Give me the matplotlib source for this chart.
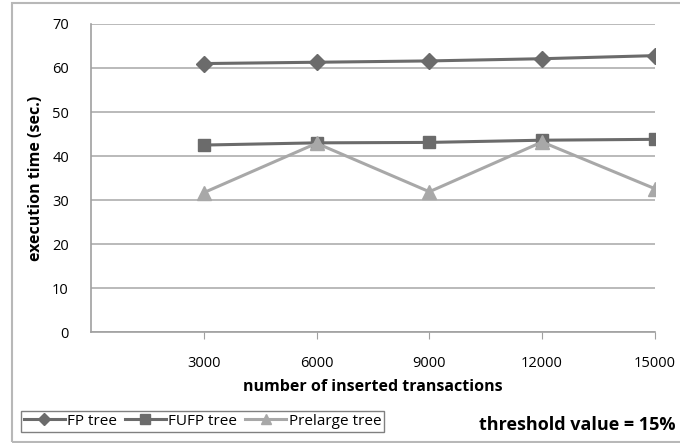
import matplotlib.pyplot as plt
from matplotlib.patches import Rectangle

plt.rcParams['font.family'] = ['Open Sans', 'DejaVu Sans']

transactions = [3000, 6000, 9000, 12000, 15000]
fp_tree = [61.0, 61.3, 61.6, 62.1, 62.8]
fufp_tree = [42.5, 43.0, 43.1, 43.6, 43.8]
prelarge_tree = [31.7, 42.9, 31.9, 43.2, 32.6]

fig = plt.figure(figsize=(6.8, 4.43), dpi=100)
ax = fig.add_axes([0.134, 0.25, 0.829, 0.696])

ax.plot(transactions, fp_tree, color="#6b6b6b", lw=2.2, marker="D", ms=8,
        label="FP tree", zorder=3)
ax.plot(transactions, fufp_tree, color="#6b6b6b", lw=2.2, marker="s", ms=9,
        label="FUFP tree", zorder=3)
ax.plot(transactions, prelarge_tree, color="#a8a8a8", lw=2.2, marker="^", ms=10,
        label="Prelarge tree", zorder=4)

ax.set_xlim(0, 15000)
ax.set_ylim(0, 70)
ax.set_xticks(transactions)
ax.set_yticks(range(0, 71, 10))
ax.yaxis.grid(True, color="#b4b4b4", lw=1.3)
ax.set_axisbelow(True)
for s in ["top", "right"]:
    ax.spines[s].set_visible(False)
for s in ["left", "bottom"]:
    ax.spines[s].set_color("#a0a0a0")
    ax.spines[s].set_linewidth(1.2)
ax.tick_params(axis="x", length=5, color="#a0a0a0", pad=12, labelsize=10.5)
ax.tick_params(axis="y", length=0, pad=16, labelsize=10.5)

ax.set_xlabel("number of inserted transactions", fontsize=11.5, fontweight="bold",
              labelpad=6)
ax.set_ylabel("execution time (sec.)", fontsize=11.5, fontweight="bold", labelpad=6)

fig.legend(loc="lower left", bbox_to_anchor=(0.019, 0.008), ncol=3, fontsize=11,
           handlelength=2.7, handletextpad=0.15, columnspacing=0.5,
           borderpad=0.2, fancybox=False, edgecolor="#808080",
           framealpha=1, markerscale=0.75)

fig.text(0.705, 0.03, "threshold value = 15%", fontsize=13, fontweight="bold")

fig.patches.append(Rectangle((0.017, 0.003), 1.2, 0.99, transform=fig.transFigure,
                             fill=False, edgecolor="#b8b8b8", lw=1.5))

fig.savefig("out.png", dpi=100)
